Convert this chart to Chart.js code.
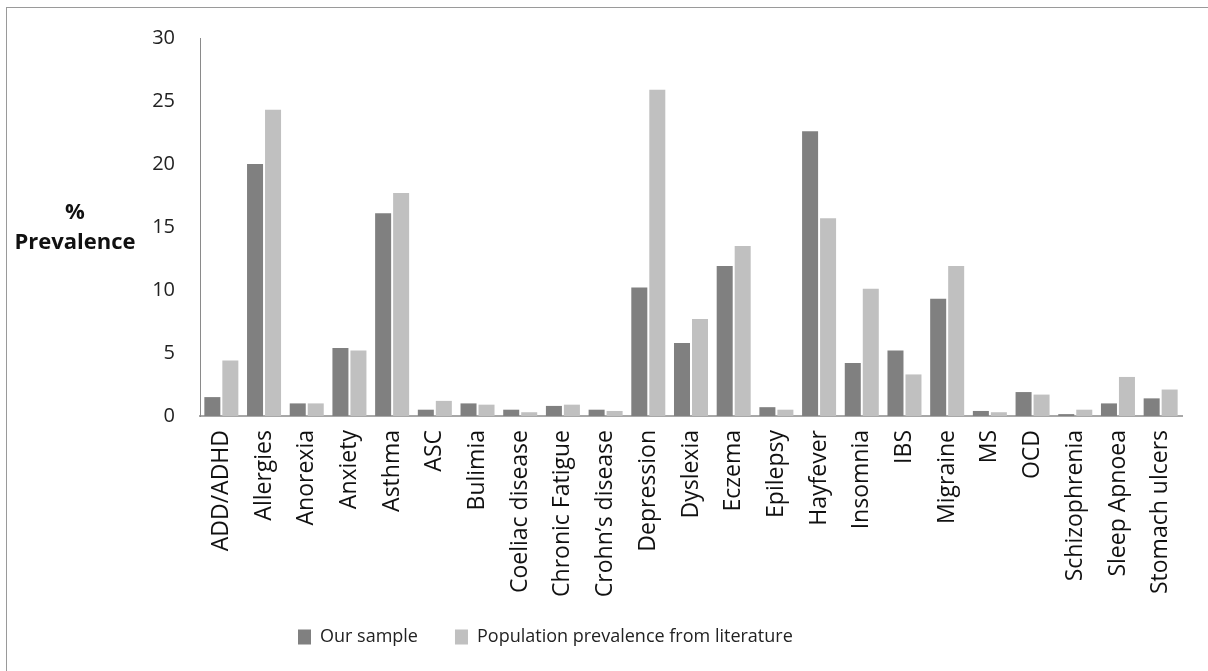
<!DOCTYPE html>
<html>
<head>
<meta charset="utf-8">
<script src="https://cdn.jsdelivr.net/npm/chart.js@4.4.1/dist/chart.umd.min.js"></script>
<style>
  html, body { margin: 0; padding: 0; background: #fff; overflow: hidden; }
  #frame { position: absolute; left: 6px; top: 7px; width: 1400px; height: 900px; border: 1px solid #9a9a9a; box-sizing: border-box; }
  #c { position: absolute; left: 0; top: 0; }
</style>
</head>
<body>
<div id="frame"></div>
<canvas id="c" width="1208" height="671"></canvas>
<script>
const categories = ['ADD/ADHD','Allergies','Anorexia','Anxiety','Asthma','ASC','Bulimia','Coeliac disease','Chronic Fatigue','Crohn\u2019s disease','Depression','Dyslexia','Eczema','Epilepsy','Hayfever','Insomnia','IBS','Migraine','MS','OCD','Schizophrenia','Sleep Apnoea','Stomach ulcers'];
const ourSample = [1.5,20.0,1.0,5.4,16.1,0.5,1.0,0.5,0.8,0.5,10.2,5.8,11.9,0.7,22.6,4.2,5.2,9.3,0.4,1.9,0.15,1.0,1.4];
const populationPrevalence = [4.4,24.3,1.0,5.2,17.7,1.2,0.9,0.3,0.9,0.4,25.9,7.7,13.5,0.5,15.7,10.1,3.3,11.9,0.3,1.7,0.5,3.1,2.1];
const seriesNames = ['Our sample', 'Population prevalence from literature'];
const yTitleLines = ['%', 'Prevalence'];
const yTicks = { min: 0, max: 30, step: 5 };

const yTitlePlugin = {
  id: 'yTitle',
  afterDraw(chart) {
    const ctx = chart.ctx;
    ctx.save();
    ctx.font = 'bold 22px "Open Sans"';
    ctx.fillStyle = '#111';
    ctx.textAlign = 'center';
    ctx.textBaseline = 'middle';
    ctx.fillText(yTitleLines[0], 75, 213);
    ctx.fillText(yTitleLines[1], 75, 243);
    ctx.restore();
  }
};

const legendPlace = {
  id: 'legendPlace',
  afterLayout(chart) {
    const lg = chart.legend;
    if (!lg || !lg.lineWidths) return;
    const pad = lg.options.labels.padding;
    const lw = lg.lineWidths[0];
    const startX = 298;
    lg.left = startX - pad;
    lg.right = startX + lw;
    lg.width = lg.right - lg.left;
    const h = lg.height;
    lg.top = 637 - pad - 9;
    lg.bottom = lg.top + h;
  }
};

new Chart(document.getElementById('c'), {
  type: 'bar',
  data: {
    labels: categories,
    datasets: [
      { label: seriesNames[0], data: ourSample, backgroundColor: '#808080', borderWidth: 0 },
      { label: seriesNames[1], data: populationPrevalence, backgroundColor: '#c0c0c0', borderWidth: 0 }
    ]
  },
  options: {
    responsive: false,
    animation: false,
    devicePixelRatio: 1,
    categoryPercentage: 0.843,
    barPercentage: 0.89,
    layout: { padding: { top: 38, left: 0, right: 26, bottom: 0 } },
    plugins: {
      legend: {
        position: 'bottom',
        labels: {
          boxWidth: 13,
          boxHeight: 15,
          padding: 37,
          color: '#222',
          font: { family: '"Open Sans"', size: 18 }
        }
      },
      tooltip: { enabled: false },
      title: { display: false }
    },
    scales: {
      x: {
        grid: { display: false, drawTicks: false },
        border: { display: true, color: '#a8a8a8', width: 2 },
        ticks: {
          minRotation: 90,
          maxRotation: 90,
          autoSkip: false,
          padding: 14,
          color: '#111',
          font: { family: '"Open Sans"', size: 23 }
        },
        afterFit(scale) { scale.height = 190; }
      },
      y: {
        min: yTicks.min,
        max: yTicks.max,
        grid: { display: false, drawTicks: false },
        border: { display: true, color: '#8a8a8a', width: 1 },
        ticks: {
          stepSize: yTicks.step,
          padding: 25,
          color: '#222',
          font: { family: '"Open Sans"', size: 20 }
        },
        afterFit(scale) { scale.width = 200; }
      }
    }
  },
  plugins: [yTitlePlugin, legendPlace]
});
</script>
</body>
</html>
